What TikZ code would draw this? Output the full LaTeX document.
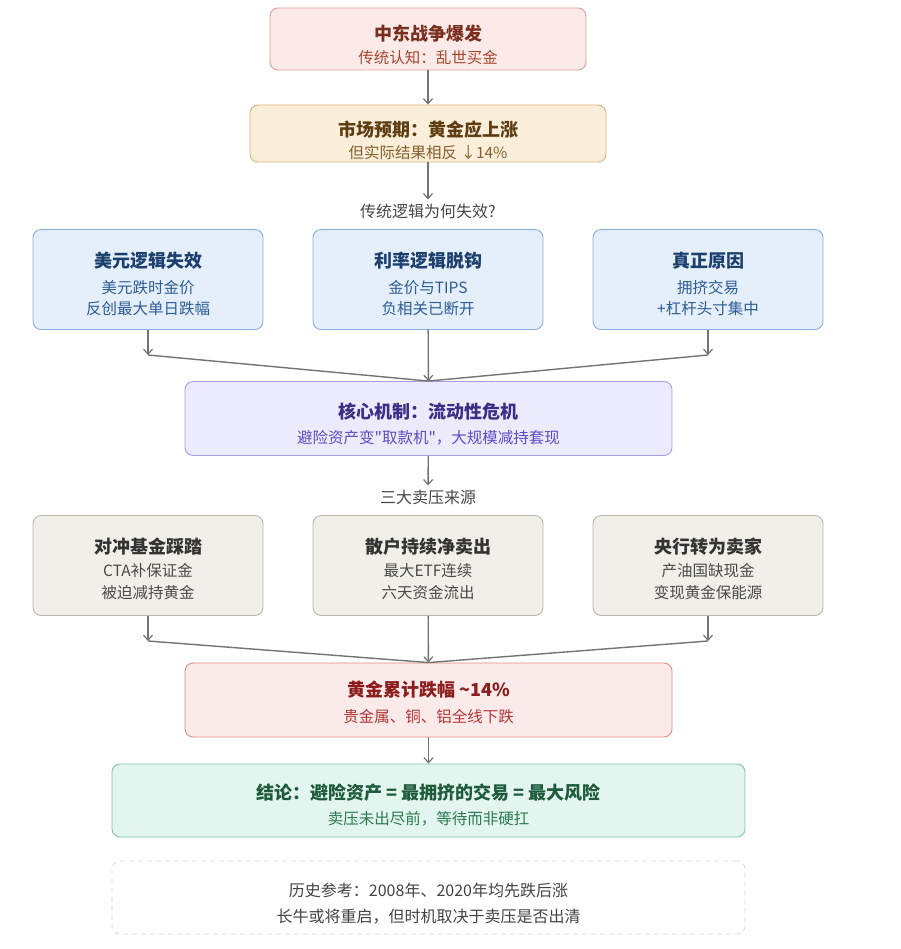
\documentclass[tikz,border=0pt]{standalone}
\usepackage{fontspec}
\setmainfont{Noto Sans CJK SC}[Ligatures=TeXOff]
\usetikzlibrary{arrows.meta}
\definecolor{arrowc}{HTML}{737373}
\definecolor{f1}{HTML}{FBEAE7}\definecolor{d1}{HTML}{D9A093}\definecolor{t1}{HTML}{7A2E1E}\definecolor{s1}{HTML}{A8472F}
\definecolor{f2}{HTML}{FBEFDC}\definecolor{d2}{HTML}{D8B27C}\definecolor{t2}{HTML}{5E3D12}\definecolor{s2}{HTML}{85602A}
\definecolor{f3}{HTML}{E4EFFB}\definecolor{d3}{HTML}{86AEDB}\definecolor{t3}{HTML}{1C3F6E}\definecolor{s3}{HTML}{2D5D96}
\definecolor{f4}{HTML}{ECEBFD}\definecolor{d4}{HTML}{A99BE6}\definecolor{t4}{HTML}{3B2F86}\definecolor{s4}{HTML}{5B4CBF}
\definecolor{f5}{HTML}{F1EFE9}\definecolor{d5}{HTML}{B9B4A8}\definecolor{t5}{HTML}{333333}\definecolor{s5}{HTML}{4A4A4A}
\definecolor{f6}{HTML}{FBEAEA}\definecolor{d6}{HTML}{DD8C8C}\definecolor{t6}{HTML}{8B1D1D}\definecolor{s6}{HTML}{B33636}
\definecolor{f7}{HTML}{E2F5EE}\definecolor{d7}{HTML}{7FC7A8}\definecolor{t7}{HTML}{1D5B3B}\definecolor{s7}{HTML}{2B7A52}
\definecolor{d8}{HTML}{D8D8D8}\definecolor{t8}{HTML}{444444}
\tikzset{
  box/.style={draw, rounded corners=8pt, line width=0.9pt, inner sep=0pt},
  ttl/.style={font=\fontsize{18}{22}\selectfont\bfseries, inner sep=0pt},
  sub/.style={font=\fontsize{15.5}{21.5}\selectfont, inner sep=0pt, align=center},
  lbl/.style={font=\fontsize{16}{20}\selectfont, text=t5!90, inner sep=4pt},
  arr/.style={draw=arrowc, line width=1.4pt, -{Straight Barb[length=5pt,width=9pt,line width=1.2pt]}},
  ln/.style={draw=arrowc, line width=1.4pt},
}
\begin{document}
\begin{tikzpicture}[x=1pt,y=-1pt]
\useasboundingbox (0,0) rectangle (900,949);
% box 1
\node[box, fill=f1, draw=d1, minimum width=316pt, minimum height=62pt] (n1) at (428,39) {};
\node[ttl, text=t1] (n1t) at (428,34) {中东战争爆发};
\node[sub, text=s1] (n1s) at (428,58) {传统认知：乱世买金};
% box 2
\node[box, fill=f2, draw=d2, minimum width=356pt, minimum height=57pt] (n2) at (428,133.5) {};
\node[ttl, text=t2] (n2t) at (428,130) {市场预期：黄金应上涨};
\node[sub, text=s2] (n2s) at (428,153) {但实际结果相反 ↓14\%};
\draw[arr] (n1) -- (n2);
\node[lbl] (l1) at (428,211) {传统逻辑为何失效?};
\draw[arr] (n2) -- (l1);
% blue boxes
\foreach \nm/\x/\t/\a/\b in {b1/148/美元逻辑失效/美元跌时金价/反创最大单日跌幅, b2/428/利率逻辑脱钩/金价与TIPS/负相关已断开, b3/708/真正原因/拥挤交易/+杠杆头寸集中}{
  \node[box, fill=f3, draw=d3, minimum width=230pt, minimum height=100pt] (\nm) at (\x,279.5) {};
  \node[ttl, text=t3] (\nm t) at (\x,261) {\t};
  \node[sub, text=s3] (\nm s) at (\x,298) {\a\\\b};
}
% core
\node[box, fill=f4, draw=d4, minimum width=487pt, minimum height=74pt] (core) at (428.5,418.5) {};
\node[ttl, text=t4] (coret) at (428.5,412) {核心机制：流动性危机};
\node[sub, text=s4] (cores) at (428.5,438) {避险资产变"取款机"，大规模减持套现};
\coordinate (c1) at (148,355);
\coordinate (c3) at (708,355);
\draw[arr] (b1) -- (c1);
\draw[ln] (c1) -- (core.north);
\draw[arr] (b2) -- (core);
\draw[arr] (b3) -- (c3);
\draw[ln] (c3) -- (core.north);
\node[lbl] (l2) at (428,497) {三大卖压来源};
\draw[arr] (core) -- (l2);
% gray boxes
\foreach \nm/\x/\t/\a/\b in {g1/148/对冲基金踩踏/CTA补保证金/被迫减持黄金, g2/428/散户持续净卖出/最大ETF连续/六天资金流出, g3/708/央行转为卖家/产油国缺现金/变现黄金保能源}{
  \node[box, fill=f5, draw=d5, minimum width=230pt, minimum height=100pt] (\nm) at (\x,565.5) {};
  \node[ttl, text=t5] (\nm t) at (\x,547) {\t};
  \node[sub, text=s5] (\nm s) at (\x,581.5) {\a\\\b};
}
% red
\node[box, fill=f6, draw=d6, minimum width=487pt, minimum height=74pt] (red) at (428.5,700) {};
\node[ttl, text=t6] (redt) at (428.5,690) {黄金累计跌幅 {\char"7E}14\%};
\node[sub, text=s6] (reds) at (428.5,717) {贵金属、铜、铝全线下跌};
\coordinate (c4) at (148,641);
\coordinate (c6) at (708,641);
\draw[arr] (g1) -- (c4);
\draw[ln] (c4) -- (red.north);
\draw[arr] (g2) -- (red);
\draw[arr] (g3) -- (c6);
\draw[ln] (c6) -- (red.north);
% green
\node[box, fill=f7, draw=d7, minimum width=633pt, minimum height=73pt] (grn) at (428.5,800.5) {};
\node[ttl, text=t7] (grnt) at (428.5,793) {结论：避险资产 = 最拥挤的交易 = 最大风险};
\node[sub, text=s7] (grns) at (428.5,819) {卖压未出尽前，等待而非硬扛};
\draw[arr] (red) -- (grn);
% note
\node[box, fill=white, draw=d8, dashed, dash pattern=on 5pt off 4pt, line width=0.8pt, minimum width=633pt, minimum height=73pt] (note) at (428.5,897.5) {};
\node[sub, text=t8, font=\fontsize{16}{26}\selectfont] (notes) at (428.5,904) {历史参考：2008年、2020年均先跌后涨\\长牛或将重启，但时机取决于卖压是否出清};
\end{tikzpicture}
\end{document}
